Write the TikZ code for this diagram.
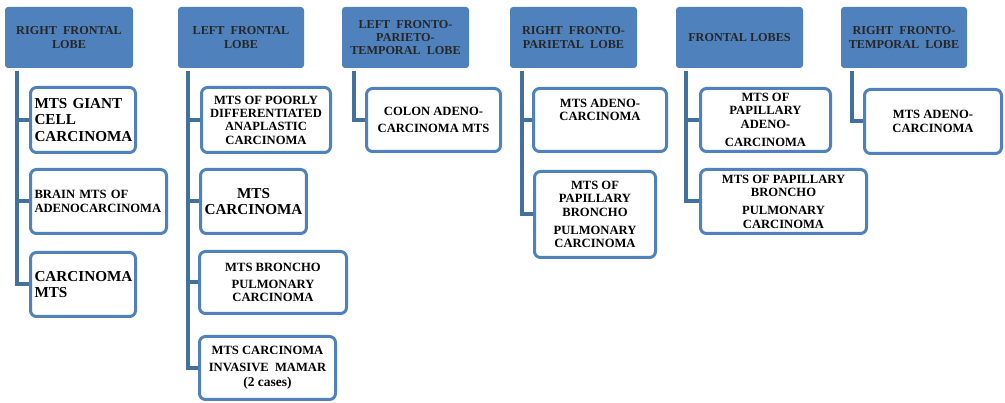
\documentclass[tikz,border=0pt]{standalone}
\usepackage{fontspec}
\setmainfont{Liberation Serif}[BoldFont={Liberation Serif Bold}]
\definecolor{lobeblue}{HTML}{4F81BD}
\definecolor{stemblue}{HTML}{41719C}
\newcommand{\bigtxt}{\fontsize{15.2}{15.8}\selectfont}
\begin{document}
\begin{tikzpicture}[x=1pt, y=-1pt, font=\rmfamily\bfseries\fontsize{12.6}{13.4}\selectfont, line join=miter,
	lobe/.style={fill=lobeblue, rounded corners=3pt, align=center, inner sep=2pt, minimum width=127pt, minimum height=61pt, text=black!85, font=\rmfamily\bfseries\fontsize{12.2}{13.2}\selectfont},
	site/.style={draw=lobeblue, line width=3pt, fill=white, rounded corners=6pt, align=center, inner sep=4pt},
	big/.style={font=\rmfamily\bfseries\bigtxt},
	stem/.style={draw=stemblue, line width=4pt}]
		\useasboundingbox (0,0) rectangle (1005,403);
		% lobes
		\node[lobe, minimum width=128pt](h1) at (69,37.5){RIGHT\ \ FRONTAL\\LOBE};
		\node[lobe, minimum width=126pt](h2) at (241,37.5){LEFT\ \ FRONTAL\\LOBE};
		\node[lobe](h3) at (405.5,37.5){LEFT\ \ FRONTO-\\PARIETO-\\TEMPORAL\ \ LOBE};
		\node[lobe](h4) at (573.5,37.5){RIGHT\ \ FRONTO-\\PARIETAL\ \ LOBE};
		\node[lobe](h5) at (739.5,37.5){FRONTAL LOBES};
		\node[lobe, minimum width=126pt](h6) at (904,37.5){RIGHT\ \ FRONTO-\\TEMPORAL\ \ LOBE};
		% right frontal lobe
		\node[site, big, align=left, text width=97pt, minimum height=65pt](c11) at (83,120){MTS GIANT\\CELL\\[1pt]CARCINOMA};
		\node[site, align=left, text width=128pt, minimum height=64pt](c12) at (98.5,201.5){BRAIN MTS OF\\ADENOCARCINOMA};
		\node[site, big, align=left, text width=97pt, minimum height=64pt](c13) at (83,284.5){CARCINOMA\\MTS};
		% left frontal lobe
		\node[site, minimum width=129pt, minimum height=65pt](c21) at (266,120){MTS OF POORLY\\DIFFERENTIATED\\ANAPLASTIC\\CARCINOMA};
		\node[site, big, minimum width=104pt, minimum height=64pt](c22) at (253.5,201.5){MTS\\[1pt]CARCINOMA};
		\node[site, minimum width=147pt, minimum height=62pt](c23) at (273,282.5){MTS BRONCHO\\[3pt]PULMONARY\\CARCINOMA};
		\node[site, minimum width=136pt, minimum height=63pt](c24) at (267.5,368){MTS CARCINOMA\\[3pt]INVASIVE\ \ MAMAR\\[2pt]\fontsize{13.5}{13}\selectfont(2 cases)};
		% left fronto-parieto-temporal lobe
		\node[site, minimum width=134pt, minimum height=63pt](c31) at (433.5,120){COLON ADENO-\\[4pt]CARCINOMA MTS};
		% right fronto-parietal lobe
		\node[site, minimum width=133pt, minimum height=63pt](c41) at (600,120){MTS ADENO-\\CARCINOMA\\[7pt]\mbox{}};
		\node[site, minimum width=121pt, minimum height=86pt](c42) at (595,214.5){MTS OF\\PAPILLARY\\BRONCHO\\[5pt]PULMONARY\\CARCINOMA};
		% frontal lobes
		\node[site, minimum width=130pt, minimum height=63pt](c51) at (765.5,120){MTS OF\\PAPILLARY\\ADENO-\\[5pt]CARCINOMA};
		\node[site, minimum width=166pt, minimum height=64pt](c52) at (783.5,201.5){MTS OF PAPILLARY\\BRONCHO\\[5pt]PULMONARY\\CARCINOMA};
		% right fronto-temporal lobe
		\node[site, minimum width=137pt, minimum height=64pt](c61) at (933,121.5){MTS ADENO-\\CARCINOMA};
		% stems
		\coordinate (s1) at (17,71);
		\coordinate (s2) at (188,71);
		\coordinate (s3) at (354,71);
		\coordinate (s4) at (522,71);
		\coordinate (s5) at (686,71);
		\coordinate (s6) at (852,71);
		\draw[stem](s1)|-(c13.west);
		\foreach \c in {c11,c12}\draw[stem](s1 |- \c.west)--(\c.west);
		\draw[stem](s2)|-(c24.west);
		\foreach \c in {c21,c22,c23}\draw[stem](s2 |- \c.west)--(\c.west);
		\draw[stem](s3)|-(c31.west);
		\draw[stem](s4)|-(c42.west);
		\draw[stem](s4 |- c41.west)--(c41.west);
		\draw[stem](s5)|-(c52.west);
		\draw[stem](s5 |- c51.west)--(c51.west);
		\draw[stem](s6)|-(c61.west);
		
	\end{tikzpicture}
\end{document}
